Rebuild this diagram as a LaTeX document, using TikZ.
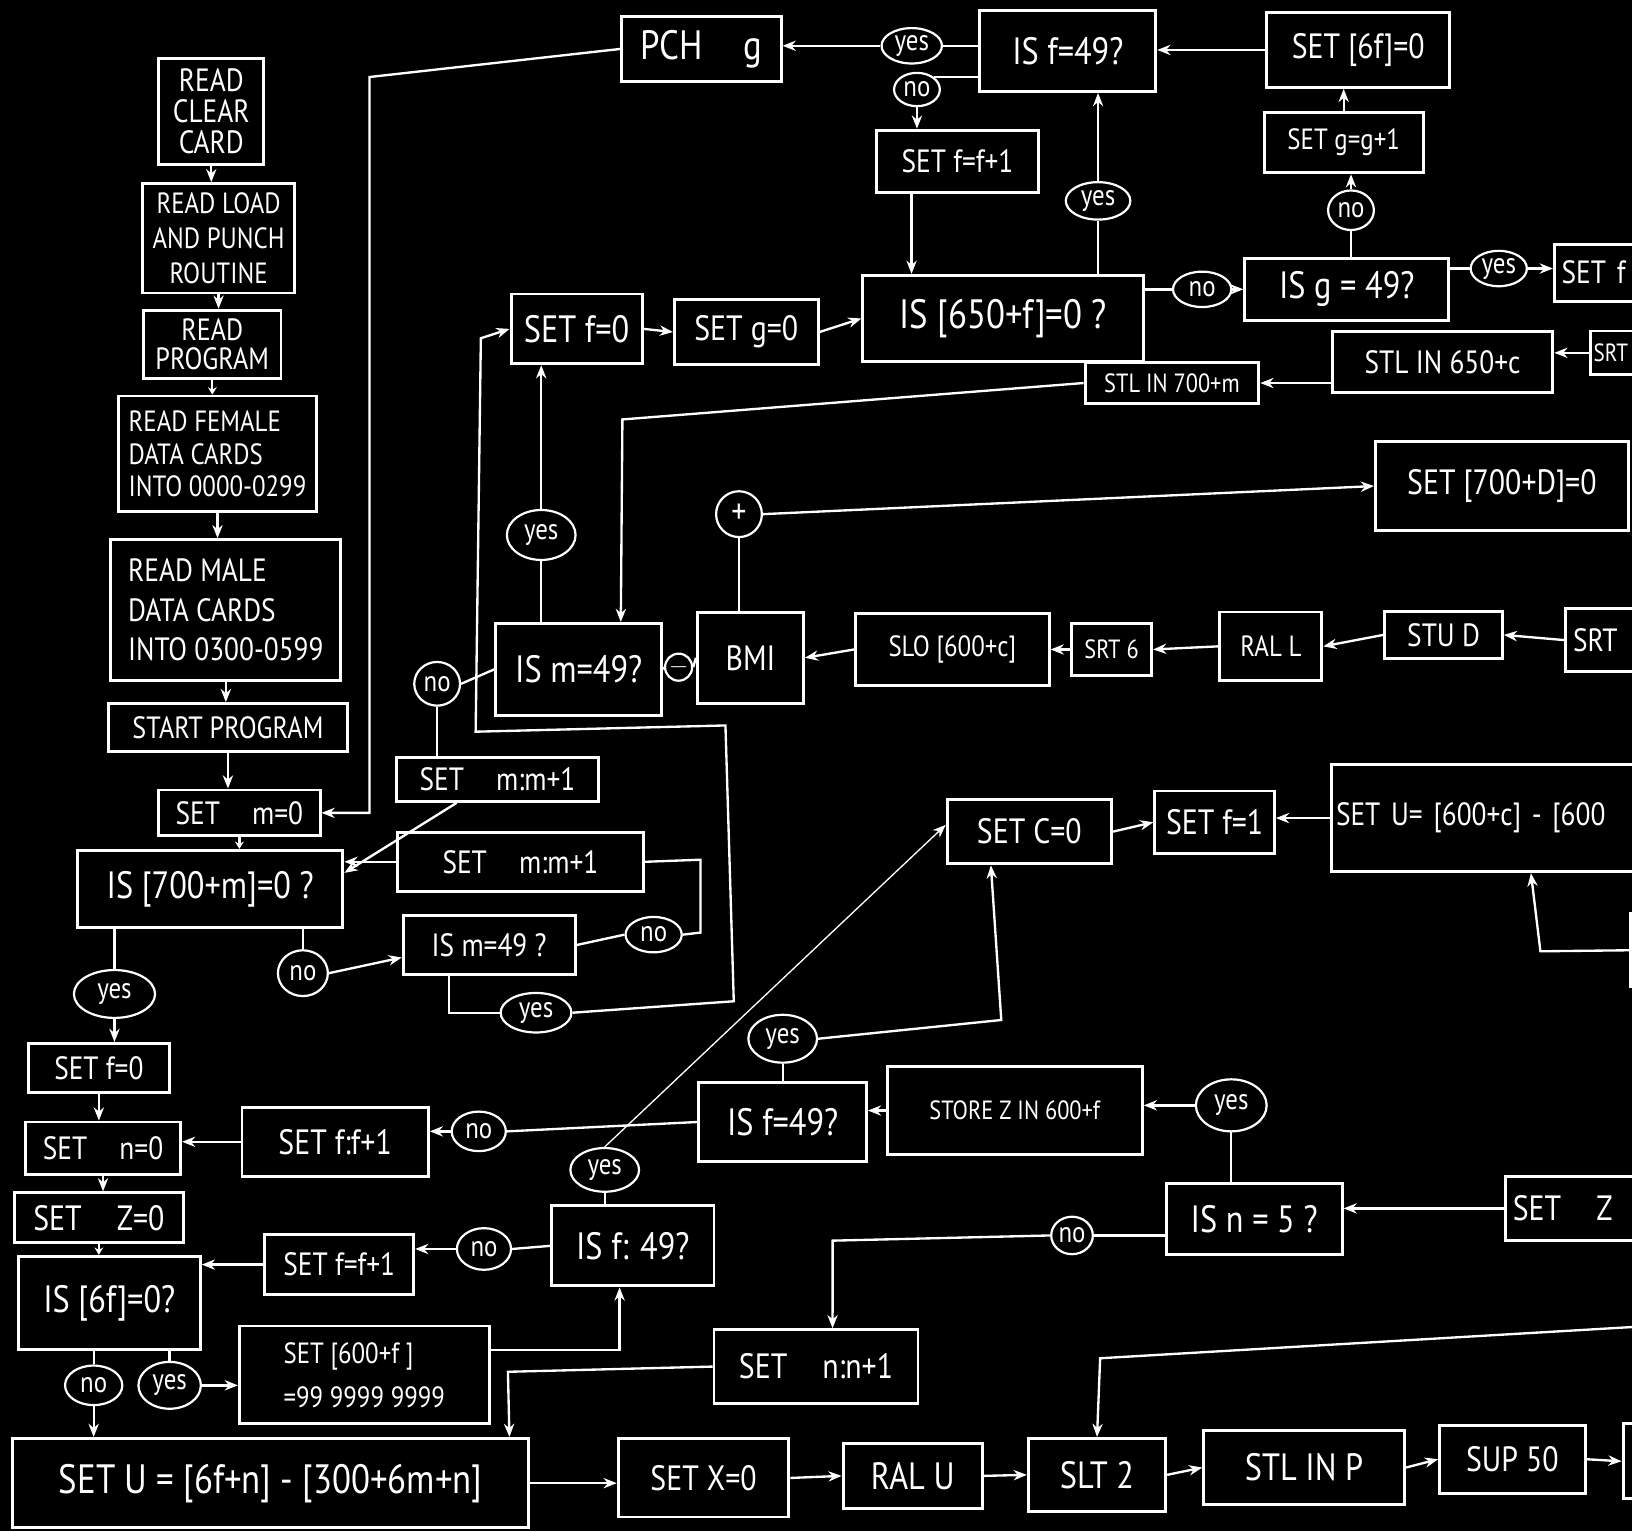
\documentclass[tikz,border=0pt]{standalone}
\usepackage{fontspec}
\setmainfont{PT Sans}[FakeStretch=0.85]
\usetikzlibrary{shapes.geometric,arrows.meta,calc}
\newcommand\myfs[2]{\fontsize{#1}{#2}\selectfont}
\begin{document}
\begin{tikzpicture}[x=0.025cm,y=-0.025cm,
  bx/.style 2 args={draw=white, line width=2pt, text=white, minimum width=#1*0.025cm, minimum height=#2*0.025cm, inner sep=1pt, align=center},
  cbx/.style 2 args={draw=white, line width=2pt, text=white, text width=#1, minimum height=#2*0.025cm, inner xsep=5pt, inner ysep=1pt, align=left},
  el/.style 2 args={ellipse, draw=white, line width=1.5pt, text=white, minimum width=#1*0.025cm, minimum height=#2*0.025cm, inner sep=0pt, font=\myfs{20}{20}},
  circ/.style={circle, draw=white, line width=1.5pt, text=white, inner sep=0pt, minimum size=#1*0.025cm},
  ln/.style={draw=white, line width=1.6pt},
  arr/.style={ln, -{Stealth[length=9pt,width=7pt]}},
  sarr/.style={ln, -{Stealth[length=5pt,width=6pt]}},
  thinarr/.style={draw=white, line width=0.9pt, -{Stealth[length=9pt,width=7pt]}}
]
\useasboundingbox (0,0) rectangle (1568,1471);
\fill[black] (0,0) rectangle (1568,1471);
\clip (0,0) rectangle (1568,1471);

% ---------- left column ----------
\node[bx={101}{102}, font=\myfs{22}{21}] (rcc) at (203,107) {READ\\CLEAR\\CARD};
\node[bx={146}{105}, font=\myfs{20}{24}] (rlp) at (210,229) {READ LOAD\\AND PUNCH\\ROUTINE};
\node[bx={132}{66}, font=\myfs{21}{20}] (rp) at (204,331) {READ\\PROGRAM};
\node[bx={191}{111}, font=\myfs{20}{22}, align=left] (rf) at (209,436) {READ FEMALE\\DATA CARDS\\INTO 0000-0299};
\node[bx={221}{135}, font=\myfs{22}{27}, align=left] (rm) at (217,586) {READ MALE\\DATA CARDS\\INTO 0300-0599};
\node[bx={230}{46}, font=\myfs{21}{21}] (sp) at (219,699) {START PROGRAM};
\node[bx={155}{44}, font=\myfs{22}{22}] (sm0) at (230,781) {SET\quad m=0};
\node[bx={255}{74}, font=\myfs{26}{26}] (is700) at (202,854) {IS [700+m]=0 ?};
\node[el={78}{46}] (yes1) at (110,955) {yes};
\node[bx={135}{47}, font=\myfs{22}{22}] (sf0) at (95,1026) {SET f=0};
\node[bx={149}{50}, font=\myfs{22}{22}] (sn0) at (99,1103) {SET\quad n=0};
\node[bx={162}{48}, font=\myfs{24}{24}] (sz0) at (95,1170) {SET\quad Z=0};
\node[bx={175}{90}, font=\myfs{26}{26}] (is6f) at (105,1252) {IS [6f]=0?};
\node[el={55}{38}] (no2) at (90,1331) {no};
\node[el={60}{45}] (yes2) at (163,1331) {yes};
\node[bx={240}{94}, font=\myfs{20}{30}, align=left] (set600) at (350,1321) {SET [600+f ]\\ =99 9999 9999};
\node[bx={496}{86}, font=\myfs{28}{28}] (setU1) at (260,1425) {SET U = [6f+n] - [300+6m+n]};

% ---------- top area ----------
\node[bx={153}{63}, font=\myfs{28}{28}] (pch) at (674,47) {PCH\quad g};
\node[el={58}{34}] (yesA) at (876,44) {yes};
\node[el={44}{32}] (noA) at (881,86) {no};
\node[bx={169}{78}, font=\myfs{26}{26}] (isf49t) at (1026,49) {IS f=49?};
\node[bx={176}{72}, font=\myfs{24}{24}] (set6f) at (1305,48) {SET [6f]=0};
\node[bx={155}{60}, font=\myfs{22}{22}] (sff1a) at (920,155) {SET f=f+1};
\node[el={62}{36}] (yesB) at (1055,193) {yes};
\node[bx={153}{58}, font=\myfs{20}{20}] (sgg1) at (1291,137) {SET g=g+1};
\node[el={44}{38}] (noB) at (1298,202) {no};
\node[bx={270}{83}, font=\myfs{28}{28}] (is650) at (964,306) {IS [650+f]=0 ?};
\node[el={56}{34}] (noC) at (1155,278) {no};
\node[bx={196}{60}, font=\myfs{26}{26}] (isg49) at (1294,278) {IS g = 49?};
\node[el={54}{34}] (yesC) at (1440,258) {yes};
\node[cbx={3.6cm}{55}, font=\myfs{22}{22}, anchor=west] (setfR) at (1492,262) {SET f};
\node[bx={126}{67}, font=\myfs{26}{26}] (sf0b) at (554,316) {SET f=0};
\node[bx={138}{62}, font=\myfs{24}{24}] (sg0) at (717,319) {SET g=0};
\node[bx={167}{39}, font=\myfs{18}{18}] (stl700) at (1126,368) {STL IN 700+m};
\node[bx={212}{59}, font=\myfs{22}{22}] (stl650) at (1386,348) {STL IN 650+c};
\node[cbx={2.9cm}{42}, font=\myfs{17}{17}, anchor=west, inner xsep=2pt] (srtR1) at (1527,339) {SRT};
\node[bx={243}{85}, font=\myfs{24}{24}] (set700D) at (1443,467) {SET [700+D]=0};

% ---------- middle band ----------
\node[circ=44, font=\myfs{24}{24}] (plus) at (710,494) {+};
\node[el={66}{48}] (yesm) at (520,514) {yes};
\node[bx={159}{88}, font=\myfs{26}{26}] (ism49a) at (556,643) {IS m=49?};
\node[circ=26, font=\myfs{16}{16}] (minus) at (652,641) {$-$};
\node[bx={102}{87}, font=\myfs{24}{24}] (bmi) at (721,632) {BMI};
\node[bx={186}{70}, font=\myfs{20}{20}] (slo) at (915,624) {SLO [600+c]};
\node[bx={77}{50}, font=\myfs{18}{18}] (srt6) at (1068,624) {SRT 6};
\node[bx={98}{66}, font=\myfs{20}{20}] (rall) at (1221,621) {RAL L};
\node[bx={113}{45}, font=\myfs{22}{22}] (stud) at (1387,610) {STU D};
\node[cbx={3.3cm}{60}, font=\myfs{22}{22}, anchor=west] (srtR2) at (1503,615) {SRT};
\node[el={44}{42}] (nom) at (420,657) {no};
\node[bx={194}{42}, font=\myfs{22}{22}] (smm1a) at (478,749) {SET\quad m:m+1};
\node[bx={237}{57}, font=\myfs{22}{22}] (smm1b) at (500,828) {SET\quad m:m+1};
\node[bx={165}{57}, font=\myfs{22}{22}] (ism49b) at (470,908) {IS m=49 ?};
\node[el={54}{34}] (nom2) at (628,898) {no};
\node[el={68}{38}] (yesm2) at (515,973) {yes};
\node[el={48}{44}] (no1) at (291,935) {no};

\node[bx={158}{62}, font=\myfs{24}{24}] (setc0) at (989,799) {SET C=0};
\node[bx={115}{60}, font=\myfs{24}{24}] (setf1) at (1167,790) {SET f=1};
\node[cbx={10.2cm}{103}, font=\myfs{22}{22}, anchor=west, inner xsep=3pt] (setU2) at (1278,786) {SET U= [600+c] - [600};
\node[cbx={3cm}{70}, anchor=west] (cutC) at (1565,913) {};

% ---------- lower area ----------
\node[el={66}{46}] (yesc) at (752,998) {yes};
\node[bx={161}{76}, font=\myfs{26}{26}] (isf49b) at (752,1078) {IS f=49?};
\node[bx={245}{85}, font=\myfs{18}{18}] (storeZ) at (975,1067) {STORE Z IN 600+f};
\node[el={68}{50}] (yesn5) at (1183,1062) {yes};
\node[el={52}{38}] (nof1) at (460,1087) {no};
\node[bx={179}{66}, font=\myfs{24}{24}] (sff1b) at (322,1097) {SET f:f+1};
\node[el={66}{42}] (yesf2) at (581,1124) {yes};
\node[bx={156}{77}, font=\myfs{26}{26}] (isf49c) at (608,1197) {IS f: 49?};
\node[el={52}{40}] (nof2) at (465,1200) {no};
\node[bx={143}{58}, font=\myfs{22}{22}] (sff1c) at (326,1215) {SET f=f+1};
\node[el={40}{36}] (non5) at (1030,1187) {no};
\node[bx={169}{68}, font=\myfs{26}{26}] (isn5) at (1205,1171) {IS n = 5 ?};
\node[cbx={4.8cm}{62}, font=\myfs{24}{24}, anchor=west] (setZr) at (1445,1161) {SET\quad Z};
\node[bx={196}{71}, font=\myfs{24}{24}] (snn1) at (784,1313) {SET\quad n:n+1};
\node[bx={164}{75}, font=\myfs{24}{24}] (sx0) at (676,1420) {SET X=0};
\node[bx={134}{62}, font=\myfs{26}{26}] (ralu) at (877,1418) {RAL U};
\node[bx={132}{70}, font=\myfs{26}{26}] (slt2) at (1054,1417) {SLT 2};
\node[bx={193}{71}, font=\myfs{26}{26}] (stlp) at (1253,1410) {STL IN P};
\node[bx={140}{65}, font=\myfs{24}{24}] (sup50) at (1453,1402) {SUP 50};
\node[cbx={3cm}{72}, anchor=west] (cutL) at (1558,1404) {};
\coordinate (eR1) at (1568,1275);

% helper points on box edges
\coordinate (p650) at ($(sff1a.south west)!0.22!(sff1a.south east)$);
\coordinate (pU1) at ($(setU1.north west)!0.96!(setU1.north east)$);
\coordinate (pf49c) at ($(isf49c.south west)!0.42!(isf49c.south east)$);
\coordinate (pm700) at ($(smm1a.south west)!0.3!(smm1a.south east)$);
\coordinate (p700) at ($(is700.north east)!0.3!(is700.south east)$);
\coordinate (pm49b) at ($(ism49b.north west)!0.7!(ism49b.south west)$);
\coordinate (pm49bs) at ($(ism49b.south west)!0.27!(ism49b.south east)$);
\coordinate (pm49a) at ($(ism49a.north west)!0.75!(ism49a.north east)$);
\coordinate (pU2) at ($(setU2.south west)!0.46!(setU2.south east)$);
\coordinate (pc0s) at ($(setc0.south west)!0.27!(setc0.south east)$);
\coordinate (pc0w) at ($(setc0.north west)!0.4!(setc0.south west)$);
\coordinate (pn1) at ($(snn1.north west)!0.58!(snn1.north east)$);

% ---------- connectors: left column ----------
\draw[arr] (rcc.south) -- (rcc.south |- rlp.north);
\draw[arr] (rlp.south) -- (rlp.south |- rp.north);
\draw[sarr] (rp.south) -- (rp.south |- rf.north);
\draw[arr] (rf.south) -- (rf.south |- rm.north);
\draw[arr] (rm.south) -- (rm.south |- sp.north);
\draw[arr] (sp.south) -- (sp.south |- sm0.north);
\draw[sarr] (sm0.south) -- (sm0.south |- is700.north);
\draw[ln] (is700.south -| yes1) -- (yes1.north);
\draw[arr] (yes1.south) -- (yes1.south |- sf0.north);
\draw[arr] (sf0.south) -- (sf0.south |- sn0.north);
\draw[arr] (sn0.south) -- (sn0.south |- sz0.north);
\draw[sarr] (sz0.south) -- (sz0.south |- is6f.north);
\draw[ln] (is6f.south -| no2) -- (no2.north);
\draw[arr] (no2.south) -- (no2.south |- setU1.north);
\draw[ln] (is6f.south -| yes2) -- (yes2.north);
\draw[arr] (yes2.east) -- (yes2.east -| set600.west);
\draw[arr] ([yshift=0.6cm]set600.east) -| (pf49c);
\draw[arr] (snn1.west) -- (488,1318) -- (pU1);
\draw[arr] (setU1.east) -- (setU1.east -| sx0.west);
\draw[arr] (sx0.east) -- (ralu.west);
\draw[arr] (ralu.east) -- (slt2.west);
\draw[arr] (slt2.east) -- (stlp.west);
\draw[arr] (stlp.east) -- (sup50.west);
\draw[arr] (sup50.east) -- (cutL.west);
\draw[arr] (eR1) -- (1057,1305) -- (slt2.north);

% ---------- connectors: m loop ----------
\draw[arr] (pch.west) -- (355,74) |- (sm0.east);
\draw[arr] (smm1b.west) -- (smm1b.west -| is700.east);
\draw[arr] (pm700) -- (p700);
\draw[ln] (is700.south -| no1) -- (no1.north);
\draw[arr] (no1.east) -- (pm49b);
\draw[ln] (ism49b.east) -- (nom2.west);
\draw[ln] (nom2.east) -- (673,896) -- (673,826) -- (smm1b.east);
\draw[ln] (pm49bs) |- (yesm2.west);
\draw[arr] (yesm2.east) -- (705,962) -- (697,697) -- (457,703) -- (462,325) -- (sf0b.west);
\draw[ln] (ism49a.west) -- (nom.east);
\draw[ln] (nom.south) -- (nom.south |- smm1a.north);
\draw[ln] (ism49a.north -| yesm) -- (yesm.south);
\draw[arr] (yesm.north) -- (yesm.north |- sf0b.south);
\draw[arr] (stl700.west) -- (598,403) -- (pm49a);
\draw[ln] (bmi.west) -- (minus.east);
\draw[ln] (minus.west) -- (ism49a.east);
\draw[ln] (bmi.north -| plus) -- (plus.south);
\draw[arr] (plus.east) -- (set700D.west);
\draw[arr] (slo.west) -- (bmi.east);
\draw[arr] (srt6.west) -- (slo.east);
\draw[arr] (rall.west) -- (srt6.east);
\draw[arr] (stud.west) -- (rall.east);
\draw[arr] (srtR2.west) -- (stud.east);

% ---------- connectors: top ----------
\draw[arr] (sf0b.east) -- (sg0.west);
\draw[arr] (sg0.east) -- (is650.west);
\draw[arr] (p650) -- (p650 |- is650.north);
\draw[ln] (isf49t.west |- yesA) -- (yesA.east);
\draw[arr] (yesA.west) -- (yesA.west -| pch.east);
\draw[ln] (noA.north east) -- (isf49t.west |- noA.north east);
\draw[arr] (noA.south) -- (noA.south |- sff1a.north);
\draw[ln] (is650.north -| yesB) -- (yesB.south);
\draw[arr] (yesB.north) -- (yesB.north |- isf49t.south);
\draw[ln] (is650.east |- noC) -- (noC.west);
\draw[arr] (noC.east) -- (noC.east -| isg49.west);
\draw[ln] (isg49.north -| noB) -- (noB.south);
\draw[arr] (noB.north) -- (noB.north |- sgg1.south);
\draw[arr] (sgg1.north) -- (sgg1.north |- set6f.south);
\draw[arr] (set6f.west) -- (set6f.west -| isf49t.east);
\draw[ln] (isg49.east |- yesC) -- (yesC.west);
\draw[arr] (yesC.east) -- (yesC.east -| setfR.west);
\draw[arr] (stl650.west |- stl700.east) -- (stl700.east);
\draw[arr] (srtR1.west) -- (srtR1.west -| stl650.east);

% ---------- connectors: c / f loop ----------
\draw[arr] (setc0.east) -- (setf1.west);
\draw[arr] (setU2.west) -- (setU2.west -| setf1.east);
\draw[arr] (cutC.west) -- (1480,914) -- (pU2);
\draw[ln] (isf49b.north -| yesc) -- (yesc.south);
\draw[arr] (yesc.east) -- (962,980) -- (pc0s);
\draw[arr] (storeZ.west) -- (storeZ.west -| isf49b.east);
\draw[arr] (yesn5.west) -- (yesn5.west -| storeZ.east);
\draw[ln] (isn5.north -| yesn5) -- (yesn5.south);
\draw[arr] (setZr.west) -- (setZr.west -| isn5.east);
\draw[ln] (isn5.west |- non5) -- (non5.east);
\draw[arr] (non5.west) -- (800,1192) -- (pn1);
\draw[ln] (isf49b.west) -- (nof1.east);
\draw[arr] (nof1.west) -- (nof1.west -| sff1b.east);
\draw[arr] (sff1b.west) -- (sff1b.west -| sn0.east);
\draw[ln] (isf49c.north -| yesf2) -- (yesf2.south);
\draw[thinarr] (yesf2.north) -- (pc0w);
\draw[ln] (isf49c.west) -- (nof2.east);
\draw[arr] (nof2.west) -- (nof2.west -| sff1c.east);
\draw[arr] (sff1c.west) -- (sff1c.west -| is6f.east);
\end{tikzpicture}
\end{document}
